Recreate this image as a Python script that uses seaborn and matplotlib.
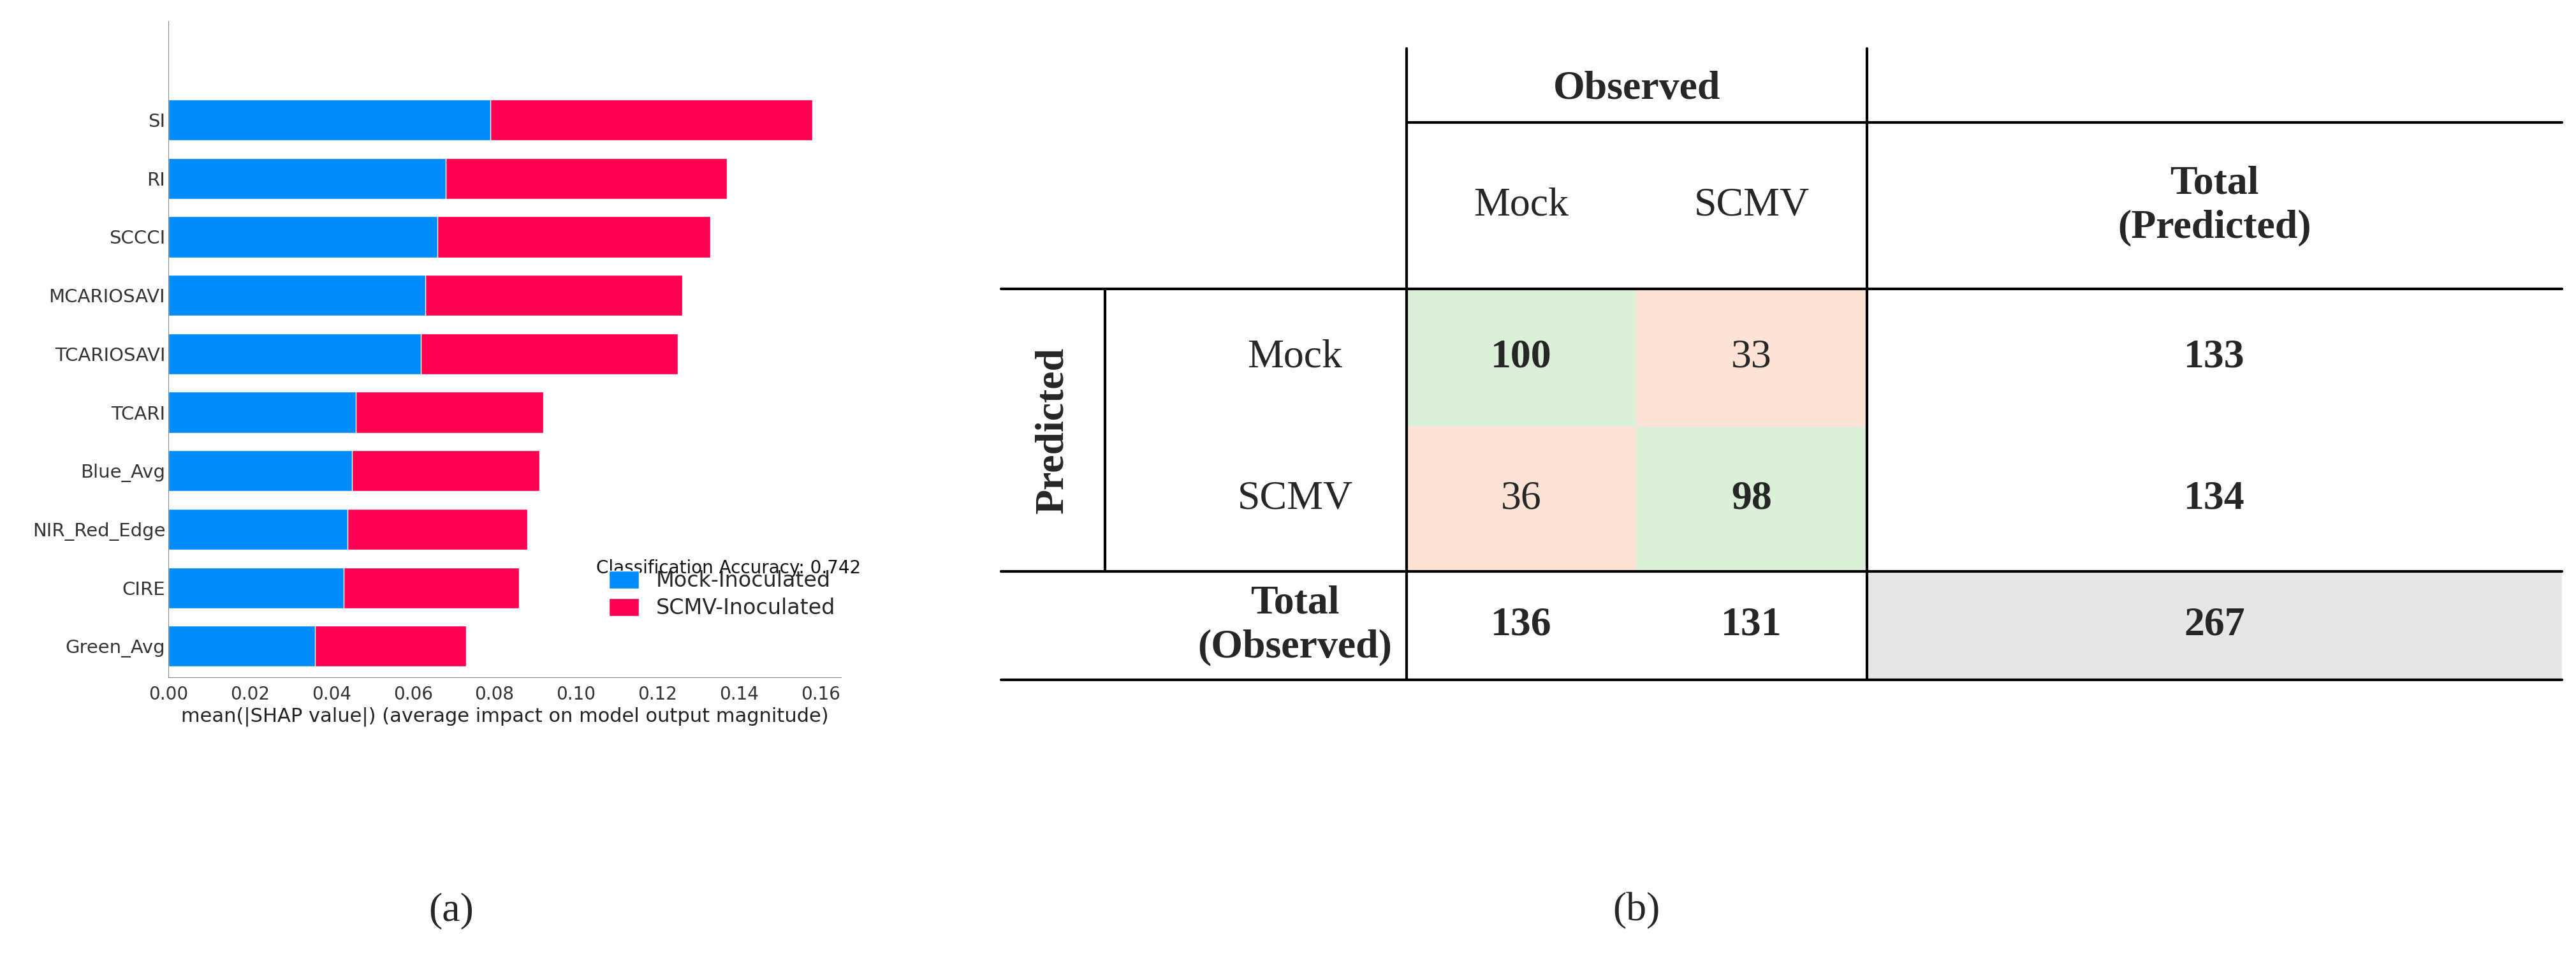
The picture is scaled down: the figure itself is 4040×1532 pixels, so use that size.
import numpy as np
import pandas as pd
import matplotlib
matplotlib.use('Agg')
import matplotlib.pyplot as plt
import seaborn as sb

features = ['SI', 'RI', 'SCCCI', 'MCARIOSAVI', 'TCARIOSAVI', 'TCARI',
            'Blue_Avg', 'NIR_Red_Edge', 'CIRE', 'Green_Avg']
mock_vals = [0.079, 0.068, 0.066, 0.063, 0.062, 0.046, 0.045, 0.044, 0.043, 0.036]
scmv_vals = [0.079, 0.069, 0.067, 0.063, 0.063, 0.046, 0.046, 0.044, 0.043, 0.037]
accuracy = 0.742

col_labels = ['Mock', 'SCMV']
row_labels = ['Mock', 'SCMV']
conf = [[100, 33], [36, 98]]
row_totals = [133, 134]
col_totals = [136, 131]
grand_total = 267

sb.set_style('white')
W, H = 4041, 1532
fig = plt.figure(figsize=(W / 100, H / 100), dpi=100)

# (a) stacked SHAP bars
df = pd.DataFrame({'feature': features, 'mock': mock_vals, 'scmv': scmv_vals})
df['total'] = df['mock'] + df['scmv']
ax = fig.add_axes([264 / W, 1 - 1062 / H, (1319 - 264) / W, (1062 - 33) / H])
sb.barplot(data=df, x='total', y='feature', color='#ff0051', saturation=1, width=0.7, ax=ax,
           label='SCMV-Inoculated')
sb.barplot(data=df, x='mock', y='feature', color='#008bfb', saturation=1, width=0.7, ax=ax,
           label='Mock-Inoculated')
ax.set_xlim(0, 0.165)
ax.set_ylim(9.53, -1.69)
ax.set_xticks(np.arange(0, 0.161, 0.02))
ax.set_xticklabels(['%.2f' % t for t in np.arange(0, 0.161, 0.02)])
ax.set_ylabel('')
ax.set_xlabel('mean(|SHAP value|) (average impact on model output magnitude)', fontsize=22, color='#222222')
ax.tick_params(axis='x', labelsize=20, colors='#333333', length=6, width=1)
ax.tick_params(axis='y', labelsize=21, colors='#333333', length=0)
for s in ['top', 'right']:
    ax.spines[s].set_visible(False)
for s in ['left', 'bottom']:
    ax.spines[s].set_color('#888888')
h, l = ax.get_legend_handles_labels()
ax.legend(h[::-1], l[::-1], loc='lower right', bbox_to_anchor=(1.02, 0.06), frameon=False, fontsize=24,
          handlelength=1.4, handleheight=0.9, labelspacing=0.3)
ax.text(0.105, 7.75, 'Classification Accuracy: %.3f' % accuracy, fontsize=20, color='#111111')

# (b) confusion table drawn in pixel coordinates
tx = fig.add_axes([0, 0, 1, 1])
tx.set_xlim(0, W)
tx.set_ylim(H, 0)
tx.axis('off')
x0, xp, x1, xm, x2, x3 = 1570, 1733, 2206, 2566, 2928, 4018
y0, yo, yh, ym, yt, yb = 76, 192, 453, 669, 896, 1066
cell_fill = [['#dcefd9', '#fde3d6'], ['#fde3d6', '#dcefd9']]
xs = [x1, xm, x2]
ys = [yh, ym, yt]
FS = 46
serif = dict(family=['Liberation Serif', 'DejaVu Serif'], ha='center', va='center')
for i in range(2):
    for j in range(2):
        tx.add_patch(plt.Rectangle((xs[j], ys[i]), xs[j + 1] - xs[j], ys[i + 1] - ys[i],
                                   color=cell_fill[i][j], lw=0))
        tx.text((xs[j] + xs[j + 1]) / 2, (ys[i] + ys[i + 1]) / 2, str(conf[i][j]),
                fontsize=FS, fontweight='bold' if i == j else 'normal', **serif)
tx.add_patch(plt.Rectangle((x2, yt), x3 - x2, yb - yt, color='#e6e6e6', lw=0))
lw = 3
tx.plot([x1, x3], [yo, yo], color='k', lw=lw)
tx.plot([x0, x3], [yh, yh], color='k', lw=lw)
tx.plot([x0, x3], [yt, yt], color='k', lw=lw)
tx.plot([x0, x3], [yb, yb], color='k', lw=lw)
tx.plot([x1, x1], [y0, yb], color='k', lw=lw)
tx.plot([x2, x2], [y0, yb], color='k', lw=lw)
tx.plot([xp, xp], [yh, yt], color='k', lw=lw)

tx.text((x1 + x2) / 2, (y0 + yo) / 2 + 6, 'Observed', fontsize=FS, fontweight='bold', **serif)
for j, lab in enumerate(col_labels):
    tx.text((xs[j] + xs[j + 1]) / 2, (yo + yh) / 2, lab, fontsize=FS, **serif)
tx.text((x2 + x3) / 2, (yo + yh) / 2, 'Total\n(Predicted)', fontsize=FS, fontweight='bold',
        linespacing=1.25, **serif)
tx.text((x0 + xp) / 2, (yh + yt) / 2, 'Predicted', fontsize=FS, fontweight='bold', rotation=90, **serif)
for i, lab in enumerate(row_labels):
    tx.text(2031, (ys[i] + ys[i + 1]) / 2, lab, fontsize=FS, **serif)
    tx.text((x2 + x3) / 2, (ys[i] + ys[i + 1]) / 2, str(row_totals[i]), fontsize=FS, fontweight='bold', **serif)
tx.text(2031, (yt + yb) / 2, 'Total\n(Observed)', fontsize=FS, fontweight='bold',
        linespacing=1.25, **serif)
for j in range(2):
    tx.text((xs[j] + xs[j + 1]) / 2, (yt + yb) / 2, str(col_totals[j]), fontsize=FS, fontweight='bold', **serif)
tx.text((x2 + x3) / 2, (yt + yb) / 2, str(grand_total), fontsize=FS, fontweight='bold', **serif)

tx.text(708, 1428, '(a)', fontsize=FS, **serif)
tx.text(2566, 1428, '(b)', fontsize=FS, **serif)

fig.savefig('out.png', dpi=100)
